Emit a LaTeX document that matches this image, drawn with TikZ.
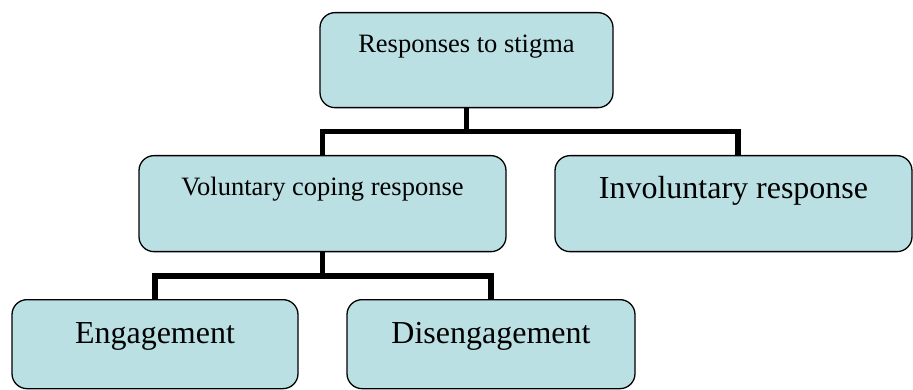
\documentclass[tikz,border=0pt]{standalone}
\usepackage{fontspec}
\setmainfont{Liberation Serif}
\definecolor{boxfill}{RGB}{186,224,227}
\begin{document}
\begin{tikzpicture}[x=1pt,y=-1pt,
  box/.style={draw=black, line width=1.3pt, fill=boxfill, rounded corners=15pt,
    inner sep=0pt, anchor=north, align=center},
  smalltxt/.style={font=\fontsize{26.5}{30}\selectfont},
  bigtxt/.style={font=\fontsize{32}{36}\selectfont},
  conn/.style={draw=black, line width=5.5pt, line join=miter}]
\useasboundingbox (0,0) rectangle (913,390);
\node[box, smalltxt, minimum width=293pt, text height=40pt, text depth=55pt] (top) at (466.5,12) {Responses to stigma};
\node[box, smalltxt, minimum width=367pt, text height=40pt, text depth=56pt] (vol) at (322.5,155) {Voluntary coping response};
\node[box, bigtxt, minimum width=357pt, text height=43pt, text depth=53pt] (invol) at (733.5,155) {Involuntary response};
\node[box, bigtxt, minimum width=286pt, text height=44pt, text depth=45pt] (eng) at (155,299) {Engagement};
\node[box, bigtxt, minimum width=288pt, text height=44pt, text depth=45pt] (dis) at (491,299) {Disengagement};
\coordinate (bus1) at (0,131.5);
\coordinate (bus2) at (0,276);
\draw[conn] (top.south) -- (top.south |- bus1);
\draw[conn] (vol.north) |- ([xshift=4.5pt]invol.north |- bus1) -- ([xshift=4.5pt]invol.north);
\draw[conn] (vol.south) -- (vol.south |- bus2);
\draw[conn] (eng.north) |- (dis.north |- bus2) -- (dis.north);
\end{tikzpicture}
\end{document}
